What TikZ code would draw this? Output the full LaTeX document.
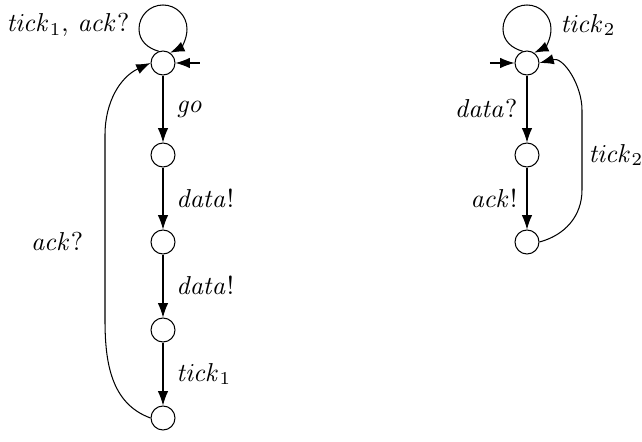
\documentclass[tikz,border=0pt]{standalone}
\usetikzlibrary{arrows.meta}
\begin{document}
\begin{tikzpicture}[x=0.3855pt,y=-0.3855pt,
  st/.style={circle,draw,minimum size=24*0.3855pt,inner sep=0pt},
  tr/.style={-{Latex[length=5.5pt,width=4pt]},thin},
  lbl/.style={inner sep=0pt}]
\useasboundingbox (0,0) rectangle (642,442);
% left automaton
\node[st] (l0) at (163,63) {};
\node[st] (l1) at (163,155) {};
\node[st] (l2) at (163,242) {};
\node[st] (l3) at (163,330) {};
\node[st] (l4) at (163,418) {};
\coordinate (li) at (200,63);
\coordinate (la) at (139,29);
\coordinate (lt) at (163,5);
\coordinate (lb) at (187,29);
\draw[tr] (li) -- (l0);
\draw[tr] (l0.110) to[out=165,in=-90] (la) to[out=90,in=180] (lt) to[out=0,in=90] (lb) to[out=-90,in=25] (l0.55);
\node[lbl] at (68,25) {$\mathit{tick}_1$, $\mathit{ack}?$};
\draw[tr] (l0) -- node[right=5pt,lbl] {$\mathit{go}$} (l1);
\draw[tr] (l1) -- node[right=5pt,lbl] {$\mathit{data}!$} (l2);
\draw[tr] (l2) -- node[right=5pt,lbl] {$\mathit{data}!$} (l3);
\draw[tr] (l3) -- node[right=5pt,lbl] {$\mathit{tick}_1$} (l4);
\draw[tr] (l4.west) to[out=160,in=-90] (105,320) -- (105,135) to[out=90,in=205] (l0.west);
\node[lbl] at (57,242) {$\mathit{ack}?$};
% right automaton
\node[st] (r0) at (527,63) {};
\node[st] (r1) at (527,155) {};
\node[st] (r2) at (527,242) {};
\coordinate (ri) at (490,63);
\coordinate (ra) at (503,29);
\coordinate (rt) at (527,5);
\coordinate (rb) at (551,29);
\draw[tr] (ri) -- (r0);
\draw[tr] (r0.110) to[out=165,in=-90] (ra) to[out=90,in=180] (rt) to[out=0,in=90] (rb) to[out=-90,in=25] (r0.55);
\node[lbl] at (588,25) {$\mathit{tick}_2$};
\draw[tr] (r0) -- node[left=3.5pt,lbl] {$\mathit{data}?$} (r1);
\draw[tr] (r1) -- node[left=3.5pt,lbl] {$\mathit{ack}!$} (r2);
\draw[tr] (r2.east) to[out=15,in=-90] (582,190) -- (582,110) to[out=90,in=15] (r0.east);
\node[lbl,anchor=west] at (588,155) {$\mathit{tick}_2$};
\end{tikzpicture}
\end{document}
